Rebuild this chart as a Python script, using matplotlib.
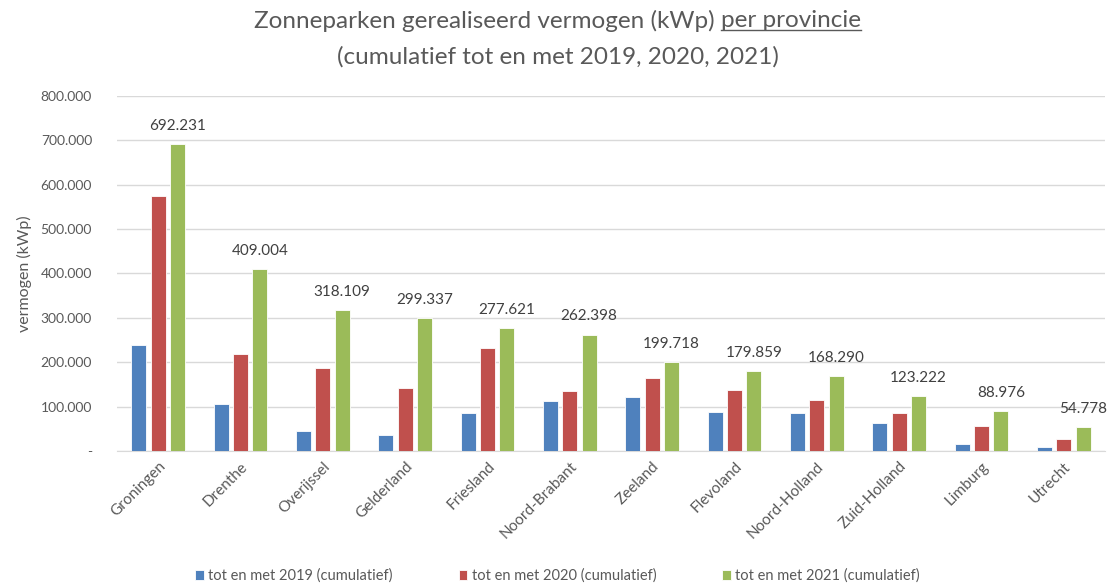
import numpy as np
import matplotlib
matplotlib.use("Agg")
import matplotlib.pyplot as plt
from matplotlib.ticker import FuncFormatter

provincies = ["Groningen", "Drenthe", "Overijssel", "Gelderland", "Friesland",
              "Noord-Brabant", "Zeeland", "Flevoland", "Noord-Holland",
              "Zuid-Holland", "Limburg", "Utrecht"]
kwp_2019 = [238000, 105000, 45000, 36000, 86000, 112000, 122000, 88000, 85000, 62000, 16000, 10000]
kwp_2020 = [574000, 218000, 186000, 143000, 232000, 135000, 164000, 137000, 114000, 85000, 56000, 26000]
kwp_2021 = [692231, 409004, 318109, 299337, 277621, 262398, 199718, 179859, 168290, 123222, 88976, 54778]
reeks_labels = ["tot en met 2019 (cumulatief)", "tot en met 2020 (cumulatief)",
                "tot en met 2021 (cumulatief)"]
kleuren = ["#4F81BD", "#C0504D", "#9BBB59"]

plt.rcParams['font.family'] = ['Lato', 'DejaVu Sans']
tekst_kleur = "#595959"

fig = plt.figure(figsize=(11.15, 5.88), dpi=100)
ax = fig.add_axes([0.105, 0.233, 0.886, 0.604])

x = np.arange(len(provincies))
breedte = 0.18
stap = 0.235
for i, (waarden, kleur, label) in enumerate(zip([kwp_2019, kwp_2020, kwp_2021], kleuren, reeks_labels)):
    ax.bar(x + (i - 1) * stap, waarden, breedte, color=kleur, label=label,
           edgecolor="white", linewidth=0.6, zorder=3)

# labels boven de 2021 balken
for xi, v in zip(x, kwp_2021):
    ax.text(xi + stap, v + 25000, f"{v:,}".replace(",", "."), ha="center", va="bottom",
            fontsize=11, color="#404040")

ax.set_ylim(0, 800000)
ax.set_xlim(-0.5, len(provincies) - 0.5)
ax.set_yticks(np.arange(0, 800001, 100000))
ax.yaxis.set_major_formatter(FuncFormatter(
    lambda v, p: "-" if v == 0 else f"{int(v):,}".replace(",", ".")))
ax.grid(axis="y", color="#d9d9d9", linewidth=1, zorder=0)
for s in ["top", "right", "left"]:
    ax.spines[s].set_visible(False)
ax.spines["bottom"].set_color("#d9d9d9")
ax.tick_params(axis="both", length=0, colors=tekst_kleur, labelsize=10)
ax.tick_params(axis="y", pad=18)
ax.tick_params(axis="x", labelsize=11, pad=6)
ax.set_xticks(x)
ax.set_xticklabels(provincies, rotation=45, ha="right", rotation_mode="anchor")
ax.set_ylabel("vermogen (kWp)", color=tekst_kleur, fontsize=11.5, labelpad=6)

# titel met onderstreept deel
deel1 = fig.text(0.5, 0.965, "Zonneparken gerealiseerd vermogen (kWp) ", ha="right",
                 va="center", fontsize=17.5, color=tekst_kleur)
deel2 = fig.text(0.5, 0.965, "per provincie", ha="left", va="center",
                 fontsize=17.5, color=tekst_kleur)
fig.canvas.draw()
r = fig.canvas.get_renderer()
w1 = deel1.get_window_extent(r).width
w2 = deel2.get_window_extent(r).width
xm = 0.5 * fig.bbox.width + (w1 - w2) / 2
deel1.set_x(xm / fig.bbox.width)
deel2.set_x(xm / fig.bbox.width)
fig.canvas.draw()
bb = deel2.get_window_extent(r)
y_lijn = (bb.y0 + 1) / fig.bbox.height
fig.add_artist(plt.Line2D([bb.x0 / fig.bbox.width, bb.x1 / fig.bbox.width], [y_lijn, y_lijn],
                          color=tekst_kleur, linewidth=1, transform=fig.transFigure))
fig.text(0.5, 0.903, "(cumulatief tot en met 2019, 2020, 2021)", ha="center", va="center",
         fontsize=17.5, color=tekst_kleur)

fig.legend(loc="lower center", bbox_to_anchor=(0.5, -0.014), ncol=3, frameon=False,
           fontsize=10.5, handlelength=0.6, handleheight=0.6, columnspacing=4.5,
           handletextpad=0.3, labelcolor=tekst_kleur)

fig.savefig("out.png", dpi=100)
